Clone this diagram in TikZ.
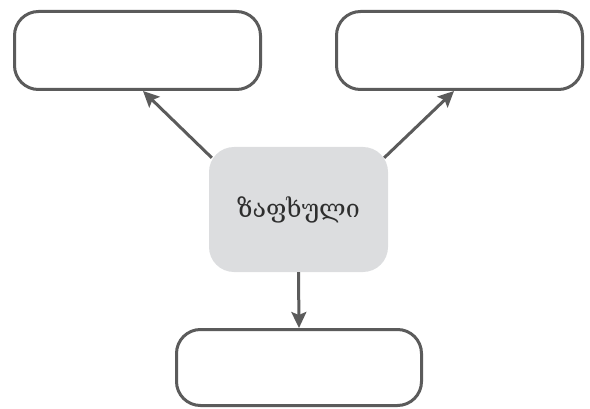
\documentclass[tikz,border=0pt]{standalone}
\usepackage{fontspec}
\newfontfamily\geofont{DejaVu Serif}
\usetikzlibrary{arrows.meta,calc}
\definecolor{linegray}{HTML}{5B5B5B}
\definecolor{boxgray}{HTML}{DCDDDF}
\definecolor{txtgray}{HTML}{2E2E2E}
\tikzset{
  outline/.style={draw=linegray, line width=3pt, rounded corners=24pt, fill=white, minimum width=246pt, minimum height=78pt, inner sep=0pt},
  hub/.style={fill=boxgray, rounded corners=25pt, minimum width=179pt, minimum height=125pt, inner sep=0pt, text=txtgray, font=\geofont\fontsize{25}{28}\selectfont},
  arr/.style={draw=linegray, line width=3pt, -{Stealth[length=16pt,width=15pt,inset=3pt]}}
}
\begin{document}
\begin{tikzpicture}[x=1pt,y=1pt]
\useasboundingbox (0,0) rectangle (590,408);
\node[outline] (tl) at (137.5,357.5) {};
\node[outline] (tr) at (459.5,357.5) {};
\node[outline, minimum width=245pt, minimum height=76pt] (b) at (299,40.5) {};
\node[hub] (c) at (298.5,198.5) {ზაფხული};
\draw[arr] ($(c.north west)+(3,-11)$) -- ($(tl.south)+(5.5,0)$);
\draw[arr] ($(c.north east)+(-4,-11)$) -- ($(tr.south)+(-5.5,0)$);
\draw[arr] (c.south) -- (b.north);
\end{tikzpicture}
\end{document}
